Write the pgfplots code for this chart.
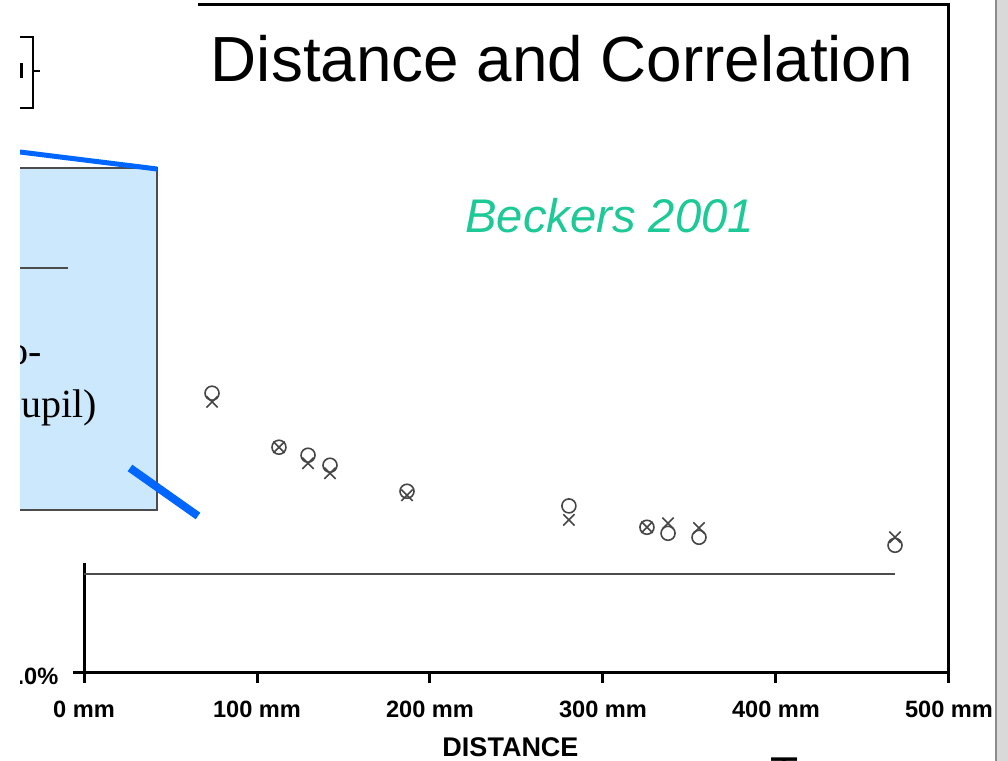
\documentclass[border=0pt]{standalone}
\usepackage{pgfplots}
\pgfplotsset{compat=1.18}
\usepackage{fontspec}
\setmainfont{Liberation Sans}
\newfontfamily\seriffont{Liberation Serif}
\definecolor{beckers}{RGB}{29,201,150}
\definecolor{calloutfill}{RGB}{204,232,252}
\definecolor{calloutline}{RGB}{0,102,255}
\definecolor{markgray}{RGB}{70,70,70}
\begin{document}
\begin{tikzpicture}[x=0.5pt,y=0.5pt]
\clip (0,0) rectangle (1008,761);
\fill[white] (0,0) rectangle (1008,761);
\begin{axis}[
  at={(42pt,44.5pt)}, anchor=south west,
  scale only axis, width=432.5pt, height=333.5pt,
  xmin=0, xmax=500, ymin=0, ymax=100,
  axis line style={line width=1.5pt, black},
  tick align=outside, major tick length=5.5pt,
  tick style={line width=1.5pt, black},
  xtick={0,100,200,300,400,500},
  xticklabels={0 mm,100 mm,200 mm,300 mm,400 mm,500 mm},
  ytick={0}, yticklabels={0.0\%},
  xtick pos=bottom, ytick pos=left,
  ticklabel style={font=\bfseries\fontsize{11.8}{13}\selectfont},
  xticklabel style={anchor=base, yshift=-17pt},
  yticklabel style={anchor=east, xshift=-3.8pt, yshift=-2pt},
  xlabel={DISTANCE},
  xlabel style={at={(axis description cs:0.5,0)}, anchor=base, yshift=-42pt, xshift=-3pt, font=\bfseries\fontsize{13.5}{15}\selectfont},
  clip=false,
]
% reference line
\addplot[line width=0.9pt, black!70, no markers] coordinates {(0,14.7) (468.8,14.7)};
% circles
\addplot[only marks, mark=o, mark size=3.5pt, mark options={line width=0.8pt, markgray}] coordinates {
 (74.0,41.8) (112.7,33.7) (129.5,32.5) (142.2,31.0) (186.7,27.1)
 (280.3,24.9) (325.4,21.7) (337.6,20.8) (355.5,20.2) (468.8,19.0)};
% crosses
\addplot[only marks, mark=x, mark size=4pt, mark options={line width=0.8pt, markgray}] coordinates {
 (74.0,40.5) (112.7,33.7) (129.5,31.3) (142.2,29.8) (186.7,26.5)
 (280.3,22.8) (325.4,21.7) (337.6,22.3) (355.5,21.6) (468.8,20.2)};
\end{axis}
% title and annotation
\node[anchor=base, font=\fontsize{31.9}{34}\selectfont] at (562,679) {Distance and Correlation};
\node[anchor=base west, inner sep=0, font=\itshape\fontsize{23.6}{26}\selectfont, text=beckers] at (465,528) {Beckers 2001};
% overlay panel on the left
\fill[white] (20,198) rectangle (198,761);
\fill[calloutfill] (20,251) rectangle (157,593);
\draw[line width=0.8pt, black!70] (20,593) -- (157,593) -- (157,251) -- (20,251);
\draw[line width=0.8pt, black!70] (20,493) -- (68,493);
\node[anchor=base east, inner sep=0, font=\seriffont\fontsize{20}{22}\selectfont] at (42,396) {electro-};
\node[anchor=base east, inner sep=0, font=\seriffont\fontsize{20}{22}\selectfont] at (97,343) {(pupil)};
\draw[line width=2.5pt, calloutline] (20,609) -- (157,592);
\draw[line width=4pt, calloutline] (130,293) -- (198,245);
\draw[line width=1pt, black] (20,724) -- (33,724) -- (33,653) -- (20,653);
\draw[line width=0.8pt, black] (33,690) -- (40,690);
\fill[black] (20,683) rectangle (23,698);
\fill[white] (0,71) rectangle (20,761);
% page edge on the right
\fill[black!15] (996,0) rectangle (1008,761);
\draw[black!45, line width=0.6pt] (996,0) -- (996,761);
\node[anchor=base west, inner sep=0, font=\fontsize{23}{26}\selectfont] at (770,-29) {T};
\end{tikzpicture}
\end{document}
